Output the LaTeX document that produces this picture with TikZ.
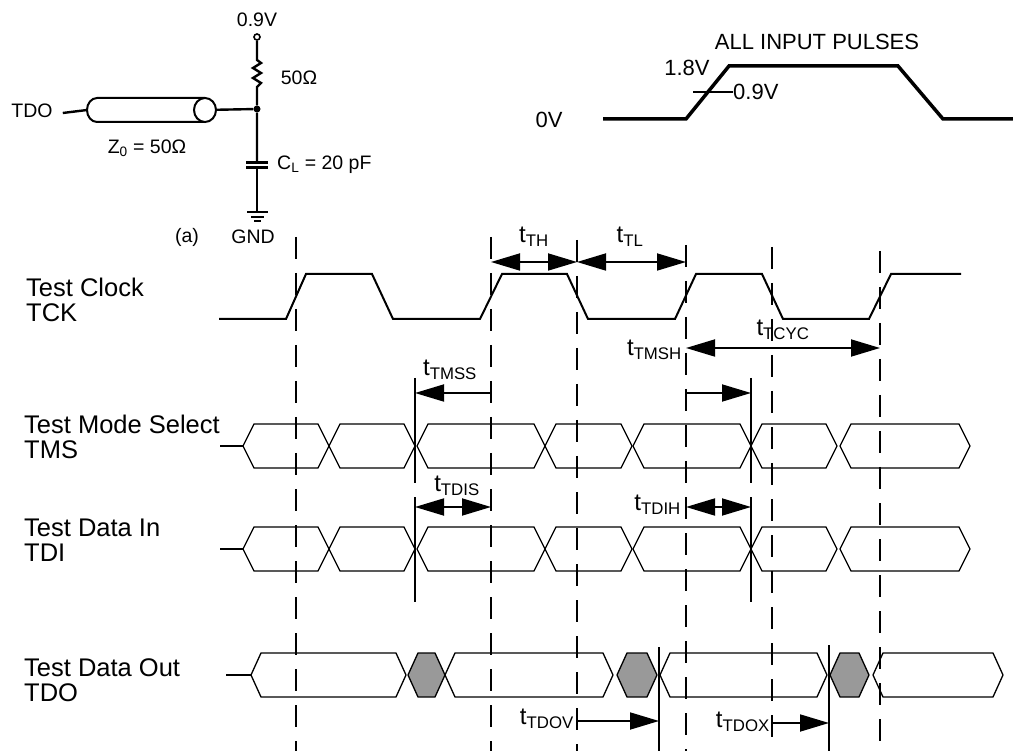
\documentclass[tikz,border=0pt]{standalone}
\usepackage{fontspec}
\setmainfont{Liberation Sans}
\usetikzlibrary{arrows.meta}

\newcommand\tsub[1]{t\textsubscript{#1}}
\colorlet{hatch}{black!40}

\begin{document}
\begin{tikzpicture}[x=1pt,y=-1pt,
    >={Triangle[length=29pt,width=17pt]},
    every node/.style={inner sep=0pt},
    sig/.style={font=\fontsize{25.5}{25}\selectfont,align=left,anchor=west},
    tm/.style={font=\fontsize{24}{26}\selectfont},
    cir/.style={font=\fontsize{19.5}{22}\selectfont},
    pul/.style={font=\fontsize{22}{24}\selectfont},
    wire/.style={line width=2.4pt},
    wave/.style={line width=2pt,line join=miter},
    bus/.style={line width=1.3pt},
    grid/.style={line width=2.4pt,dash pattern=on 22pt off 14pt},
    edgeline/.style={line width=2pt},
    dim/.style={line width=1.8pt}]
  \useasboundingbox (0,0) rectangle (1013,751);

  % load circuit (a)
  \node[cir] (vdd) at (257,20) {0.9V};
  \node[circle,draw,line width=1.6pt,minimum size=6pt] (term) at (257,37) {};
  \node[circle,fill,minimum size=7pt] (jn) at (257,109) {};
  \coordinate (rtop) at (257,60);
  \coordinate (rbot) at (257,87);
  \coordinate (cp1) at (257,163);
  \coordinate (cp2) at (257,168);
  \coordinate (gnd) at (257,212);
  \draw[wire] (term) -- (rtop) -- ++(4,3) -- ++(-8,5) -- ++(8,5) -- ++(-8,5)
    -- ++(8,5) -- ++(-4,4) -- (rbot) -- (jn) -- (cp1);
  \draw[wire] (cp2) -- (gnd);
  \draw[line width=3pt] (246,163) -- (268,163) (246,168) -- (268,168);
  \draw[wire] (247,212) -- (268,212) (251,217) -- (264,217) (254,221) -- (261,221);
  \node[cir] (r50) at (299,78) {50Ω};
  \node[cir,anchor=west] (cl) at (277,165) {C\textsubscript{L} = 20 pF};
  \node[cir] (gndl) at (253,237) {GND};
  \node[cir] (tag) at (187,237) {(a)};

  % transmission line
  \node[cir] (tdoc) at (32,111) {TDO};
  \coordinate (zl) at (87,110);
  \coordinate (zr) at (205,110);
  \draw[wire] (zr) -- (jn);
  \draw[line width=2pt,fill=white] (205,98) -- (97,98)
    arc[start angle=90,end angle=270,x radius=10pt,y radius=12pt] -- (205,122);
  \draw[line width=2pt,fill=white] (zr) ellipse[x radius=11pt,y radius=12pt];
  \draw[wire] (tdoc.east) ++(10,2) -- (zl);
  \node[cir] (z0) at (147,148) {Z\textsubscript{0} = 50Ω};

  % input pulse
  \node[pul] (allin) at (817,42) {ALL INPUT PULSES};
  \node[pul] (hi) at (687,68) {1.8V};
  \node[pul] (lo) at (549,120) {0V};
  \node[pul,anchor=west] (mid) at (733,92) {0.9V};
  \draw[line width=3.5pt,line join=miter] (603,119) -- (686,119) -- (729,66)
    -- (898,66) -- (943,119) -- (1013,119);
  \draw[line width=1.6pt] (693,92) -- (mid.west);

  % signal names
  \node[sig] (tck) at (26,300) {Test Clock\\TCK};
  \node[sig] (tms) at (24,437) {Test Mode Select\\TMS};
  \node[sig] (tdi) at (24,540) {Test Data In\\TDI};
  \node[sig] (tdo) at (24,680) {Test Data Out\\TDO};

  % clock
  \draw[wave] (219,319) -- (286,319) -- (306,274) -- (372,274) -- (393,319)
    -- (480,319) -- (502,274) -- (567,274) -- (588,319) -- (675,319)
    -- (696,274) -- (762,274) -- (783,319) -- (869,319) -- (891,274) -- (961,274);

  % TMS and TDI buses
  \foreach \y in {446,549} {
    \draw[edgeline] (220,\y) -- (243,\y);
    \foreach \a/\b in {243/329,329/415,417/545,545/632,633/751,751/837,840/970}
      \draw[bus] (\a,\y) -- (\a+11,\y-22) -- (\b-11,\y-22) -- (\b,\y)
        -- (\b-11,\y+22) -- (\a+11,\y+22) -- cycle;
  }

  % TDO bus
  \draw[edgeline] (226,675) -- (251,675);
  \foreach \a/\b/\f in {251/406/white,408/445/hatch,445/613/white,617/657/hatch,
      660/827/white,830/869/hatch,873/1003/white}
    \draw[bus,fill=\f] (\a,675) -- (\a+10,653) -- (\b-10,653) -- (\b,675)
      -- (\b-10,697) -- (\a+10,697) -- cycle;

  % clock edge references
  \foreach \x/\s in {296/237,491/237,577/240,686/245,772/247,880/251}
    \draw[grid] (\x,\s) -- (\x,751);
  \foreach \x in {415,751}
    \draw[edgeline] (\x,378) -- (\x,483) (\x,497) -- (\x,602);
  \draw[edgeline] (659,647) -- (659,751);
  \draw[edgeline] (829,645) -- (829,751);

  % timing parameters
  \coordinate (e1) at (491,262);
  \coordinate (e2) at (577,262);
  \coordinate (e3) at (686,262);
  \draw[dim,<->] (e1) -- (e2);
  \draw[dim,<->] (e2) -- (e3);
  \node[tm] (th) at (534,237) {\tsub{TH}};
  \node[tm] (tl) at (630,237) {\tsub{TL}};

  \draw[dim,->] (491,393) -- (415,393);
  \node[tm] (tmss) at (450,370) {\tsub{TMSS}};

  \draw[dim,<->] (686,348) -- (880,348);
  \node[tm] (tcyc) at (783,330) {\tsub{TCYC}};
  \node[tm,anchor=east] (tmsh) at (682,350) {\tsub{TMSH}};
  \draw[dim,->] (686,393) -- (751,393);

  \draw[dim,<->] (415,507) -- (491,507);
  \node[tm] (tdis) at (457,486) {\tsub{TDIS}};
  \draw[dim,<->] (686,507) -- (751,507);
  \node[tm,anchor=east] (tdih) at (681,505) {\tsub{TDIH}};

  \draw[dim,->] (576,721) -- (659,721);
  \node[tm,anchor=east] (tdov) at (574,719) {\tsub{TDOV}};
  \draw[dim,->] (773,723) -- (829,723);
  \node[tm,anchor=east] (tdox) at (770,722) {\tsub{TDOX}};
\end{tikzpicture}
\end{document}
